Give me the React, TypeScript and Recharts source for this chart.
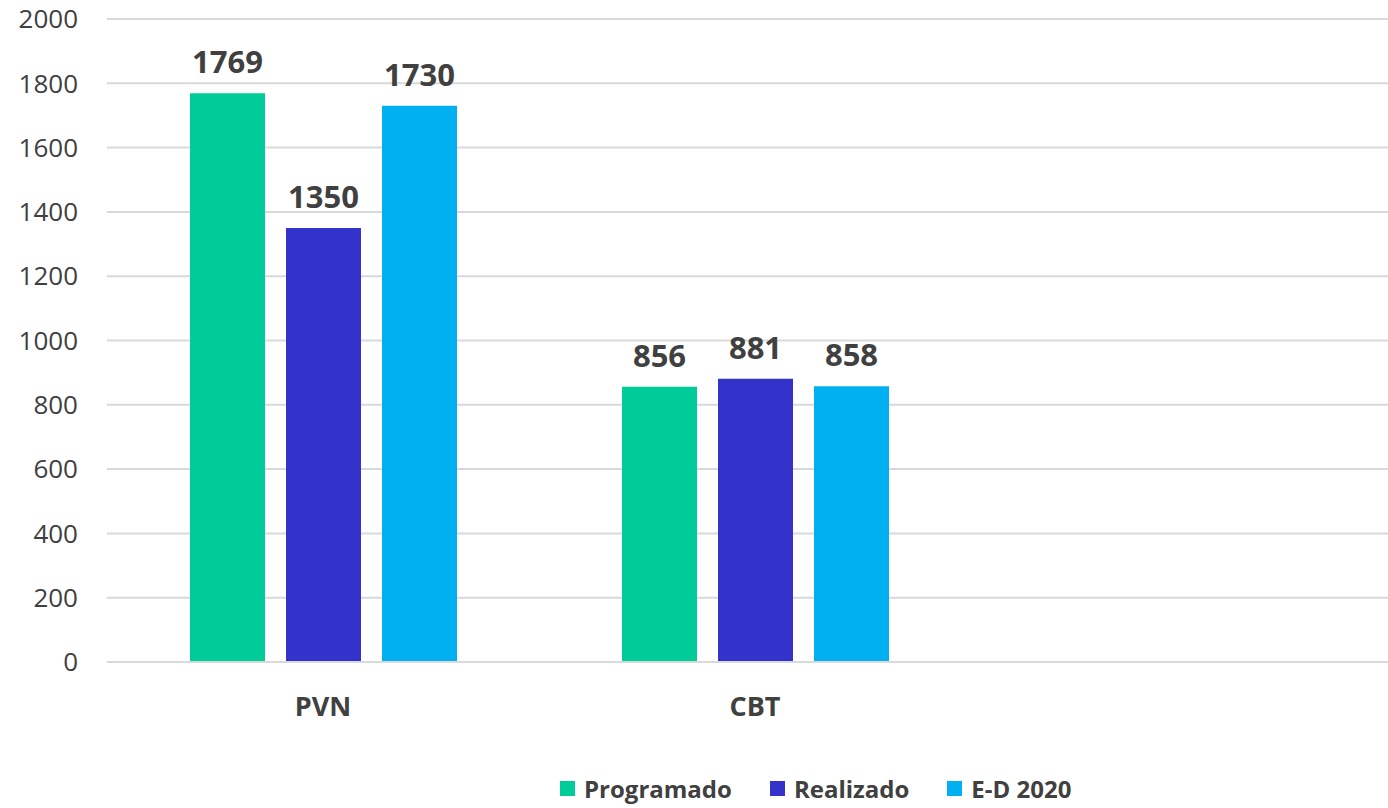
import { BarChart, Bar, XAxis, YAxis, CartesianGrid, Legend, LabelList } from "recharts";

const categories = ["PVN", "CBT", ""];
const programado = [1769, 856, null];
const realizado = [1350, 881, null];
const ed2020 = [1730, 858, null];
const yTicks = [0, 200, 400, 600, 800, 1000, 1200, 1400, 1600, 1800, 2000];

const series = [
  { key: "programado", label: "Programado", color: "#00CC99" },
  { key: "realizado", label: "Realizado", color: "#3333CC" },
  { key: "ed2020", label: "E-D 2020", color: "#00B0F0" },
];

const data = categories.map((name, i) => ({
  name,
  programado: programado[i],
  realizado: realizado[i],
  ed2020: ed2020[i],
}));

const FONT = "'Open Sans', 'Noto Sans', sans-serif";
const TEXT = "#404040";

// legend sits right of centre, like the Excel original; keep series order
function LegendRow({ payload }: any) {
  const items = [...(payload || [])].sort(
    (a: any, b: any) =>
      series.findIndex((s) => s.key === a.dataKey) - series.findIndex((s) => s.key === b.dataKey),
  );
  return (
    <div style={{ height: 40, display: "flex", alignItems: "center", paddingLeft: 560, fontFamily: FONT }}>
      {items.map((p: any, i: number) => (
        <div key={i} style={{ display: "flex", alignItems: "center", marginRight: 38 }}>
          <span style={{ width: 15, height: 15, background: p.color, display: "inline-block", marginRight: 9 }} />
          <span style={{ fontSize: 24, fontWeight: 700, color: TEXT }}>{p.value}</span>
        </div>
      ))}
    </div>
  );
}

export default function App() {
  return (
    <div style={{ position: "absolute", left: 0, top: 0, width: 1388, height: 808, overflow: "hidden", background: "#fff" }}>
      {/* plot area runs slightly past the right edge, as in the source image */}
      <BarChart
        width={1403}
        height={808}
        data={data}
        margin={{ top: 19, right: 0, left: 0, bottom: 0 }}
        barSize={75}
        barGap={21}
      >
        <CartesianGrid vertical={false} stroke="#d9d9d9" strokeWidth={2} />
        <XAxis
          dataKey="name"
          height={106}
          axisLine={{ stroke: "#d9d9d9", strokeWidth: 2 }}
          tickLine={false}
          tickSize={0}
          tickMargin={35}
          tick={{ fill: TEXT, fontSize: 27, fontWeight: 700, fontFamily: FONT }}
        />
        <YAxis
          width={107}
          domain={[0, 2000]}
          ticks={yTicks}
          axisLine={false}
          tickLine={false}
          tickSize={0}
          tickMargin={29}
          tick={{ fill: TEXT, fontSize: 26, fontFamily: FONT }}
        />
        <Legend verticalAlign="bottom" wrapperStyle={{ left: 0, width: 1388 }} content={<LegendRow />} />
        {series.map((s) => (
          <Bar key={s.key} dataKey={s.key} name={s.label} fill={s.color} isAnimationActive={false}>
            <LabelList
              dataKey={s.key}
              position="top"
              offset={20}
              style={{ fill: TEXT, fontSize: 31, fontWeight: 700, fontFamily: FONT }}
            />
          </Bar>
        ))}
      </BarChart>
    </div>
  );
}
